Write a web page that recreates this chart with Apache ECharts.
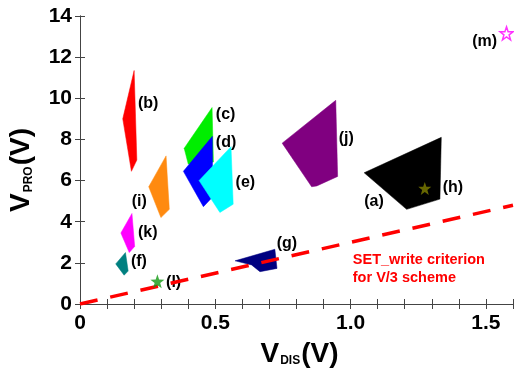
<!DOCTYPE html>
<html>
<head>
<meta charset="utf-8">
<script src="https://cdn.jsdelivr.net/npm/echarts@6/dist/echarts.min.js"></script>
<style>
  html, body { margin: 0; padding: 0; background: #ffffff; }
  #chart { width: 514px; height: 372px; }
</style>
</head>
<body>
<div id="chart"></div>
<script>
// Operating windows of each device, as polygons in (V_DIS, V_PRO) space [V]
const regionB = [[0.158, 9.0], [0.200, 11.35], [0.210, 7.0], [0.190, 6.45]];
const regionI = [[0.254, 5.7], [0.318, 7.2], [0.330, 4.6], [0.299, 4.2]];
const regionK = [[0.151, 3.45], [0.192, 4.4], [0.202, 2.8], [0.182, 2.5]];
const regionF = [[0.132, 1.95], [0.168, 2.5], [0.178, 1.6], [0.163, 1.4]];
const regionC = [[0.385, 7.57], [0.488, 9.55], [0.493, 6.9], [0.400, 6.8]];
const regionD = [[0.382, 6.45], [0.489, 8.15], [0.490, 5.2], [0.456, 4.73]];
const regionE = [[0.440, 6.0], [0.558, 7.65], [0.566, 4.85], [0.517, 4.45]];
const regionG = [[0.573, 2.1], [0.720, 2.66], [0.728, 1.73], [0.665, 1.57], [0.634, 1.9]];
const regionJ = [[0.747, 7.82], [0.945, 9.9], [0.952, 6.2], [0.875, 5.74], [0.856, 5.7]];
const regionA = [[1.050, 6.38], [1.335, 8.1], [1.330, 5.1], [1.207, 4.6]];

// Single-point devices
const pointL = [0.286, 1.10];
const pointH = [1.274, 5.62];
const pointM = [1.576, 13.16];

// SET_write criterion for the V/3 scheme: V_PRO = 3 * V_DIS
const criterionX = [0, 1.6];
const criterionY = [0, 4.8];

// Device tags and where their text starts
const tagNames = ['(b)', '(c)', '(d)', '(e)', '(i)', '(k)', '(f)', '(l)', '(g)', '(j)', '(a)', '(h)', '(m)'];
const tagAnchors = [[0.214, 9.72], [0.502, 9.19], [0.502, 7.86], [0.575, 5.9], [0.191, 4.97],
                    [0.214, 3.49], [0.188, 2.06], [0.318, 1.05], [0.727, 2.92], [0.956, 8.05],
                    [1.050, 4.97], [1.340, 5.64], [1.449, 12.78]];
const captionText = 'SET_write criterion\nfor V/3 scheme';
const captionAnchor = [1.008, 1.69];

// Axis ticks
const xTickStep = 0.1;
const yTicks = [0, 2, 4, 6, 8, 10, 12, 14];

const FONT = '"Liberation Sans", Arial, sans-serif';
const AXIS_COLOR = '#444444';
const STAR = 'path://M0,-10 L2.35,-3.24 L9.51,-3.09 L3.8,1.24 L5.88,8.09 L0,4 L-5.88,8.09 L-3.8,1.24 L-9.51,-3.09 L-2.35,-3.24 Z';

const regions = [
  { pts: regionB, color: '#ff0000' },
  { pts: regionI, color: '#ff8a10' },
  { pts: regionK, color: '#ff00ff' },
  { pts: regionF, color: '#008080' },
  { pts: regionC, color: '#00ee00' },
  { pts: regionD, color: '#0000ff' },
  { pts: regionE, color: '#00ffff' },
  { pts: regionG, color: '#000080' },
  { pts: regionJ, color: '#800080' },
  { pts: regionA, color: '#000000' }
];

function polygonSeries(region) {
  return {
    type: 'custom',
    coordinateSystem: 'cartesian2d',
    silent: true,
    z: 2,
    data: region.pts,
    renderItem: function (params, api) {
      if (params.dataIndex !== 0) return null;
      return {
        type: 'polygon',
        shape: { points: region.pts.map(p => api.coord(p)) },
        style: { fill: region.color, stroke: region.color, lineWidth: 0.5 }
      };
    }
  };
}

// Left-anchored, vertically centred text at a data position
function textSeries(names, anchors, style, z) {
  return {
    type: 'custom',
    coordinateSystem: 'cartesian2d',
    silent: true,
    z: z,
    data: anchors,
    renderItem: function (params, api) {
      const p = api.coord(anchors[params.dataIndex]);
      return {
        type: 'text',
        x: p[0], y: p[1],
        style: Object.assign({ text: names[params.dataIndex], align: 'left', verticalAlign: 'middle' }, style)
      };
    }
  };
}

function isMajorX(v) {
  return Math.abs(v * 2 - Math.round(v * 2)) < 1e-6;
}

const tickStyle = { show: true, inside: true, length: 5, lineStyle: { color: AXIS_COLOR, width: 1 } };
const lineStyle = { show: true, lineStyle: { color: AXIS_COLOR, width: 1 } };

const nameRich = {
  b: { fontSize: 28, fontWeight: 'bold', fontFamily: FONT, color: '#000', lineHeight: 32, verticalAlign: 'bottom', padding: [0, 0, 2, 0] },
  s: { fontSize: 12, fontWeight: 'bold', fontFamily: FONT, color: '#000', lineHeight: 14, verticalAlign: 'bottom', padding: [0, 1, 3, 1] }
};

const option = {
  animation: false,
  backgroundColor: '#ffffff',
  grid: { left: 80, right: 1, top: 16, bottom: 68, containLabel: false, outerBoundsMode: 'none' },
  xAxis: [
    {
      type: 'value', position: 'bottom', min: 0, max: 1.6, interval: xTickStep,
      axisLine: lineStyle, axisTick: tickStyle, splitLine: { show: false },
      axisLabel: {
        show: true, margin: 9, fontSize: 21, fontWeight: 'bold', fontFamily: FONT, color: '#000',
        formatter: v => isMajorX(v) ? (v === 0 ? '0' : v.toFixed(1)) : ''
      },
      name: '{b|V}{s|DIS}{b|(V)}', nameLocation: 'middle', nameGap: 34,
      nameTextStyle: { rich: nameRich, padding: [0, 0, 0, 6] }
    },
    {
      type: 'value', position: 'top', min: 0, max: 1.6, interval: xTickStep,
      axisLine: lineStyle, axisTick: tickStyle, splitLine: { show: false }, axisLabel: { show: false }
    }
  ],
  yAxis: [
    {
      type: 'value', position: 'left', min: yTicks[0], max: yTicks[yTicks.length - 1], interval: yTicks[1] - yTicks[0],
      axisLine: lineStyle, axisTick: tickStyle, splitLine: { show: false },
      axisLabel: { show: true, margin: 8, fontSize: 21, fontWeight: 'bold', fontFamily: FONT, color: '#000' },
      name: '{b|V}{s|PRO}{b|(V)}', nameLocation: 'middle', nameGap: 42, nameRotate: 90,
      nameTextStyle: { rich: nameRich, padding: [0, 20, 0, 0] }
    },
    {
      type: 'value', position: 'right', min: yTicks[0], max: yTicks[yTicks.length - 1], interval: yTicks[1] - yTicks[0],
      axisLine: lineStyle, axisTick: tickStyle, splitLine: { show: false }, axisLabel: { show: false }
    }
  ],
  series: [
    ...regions.map(polygonSeries),
    textSeries(tagNames, tagAnchors,
      { fill: '#000000', font: 'bold 16px ' + FONT }, 3),
    {
      type: 'line', silent: true, z: 4, symbol: 'none',
      data: criterionX.map((x, i) => [x, criterionY[i]]),
      lineStyle: { color: '#ff0000', width: 3.5, type: [18, 13], cap: 'butt' }
    },
    textSeries([captionText], [captionAnchor],
      { fill: '#ff0000', font: 'bold 14.5px ' + FONT, lineHeight: 18 }, 4),
    {
      type: 'scatter', silent: true, z: 5, symbol: STAR, symbolSize: 14,
      data: [pointL], itemStyle: { color: '#119911' }
    },
    {
      type: 'scatter', silent: true, z: 5, symbol: STAR, symbolSize: 13,
      data: [pointH], itemStyle: { color: '#808000' }
    },
    {
      type: 'scatter', silent: true, z: 5, symbol: STAR, symbolSize: 13,
      data: [pointM], itemStyle: { color: '#ffffff', borderColor: '#ff00ff', borderWidth: 1.5 }
    }
  ]
};

const chart = echarts.init(document.getElementById('chart'), null, { renderer: 'canvas' });
chart.setOption(option);
</script>
</body>
</html>
